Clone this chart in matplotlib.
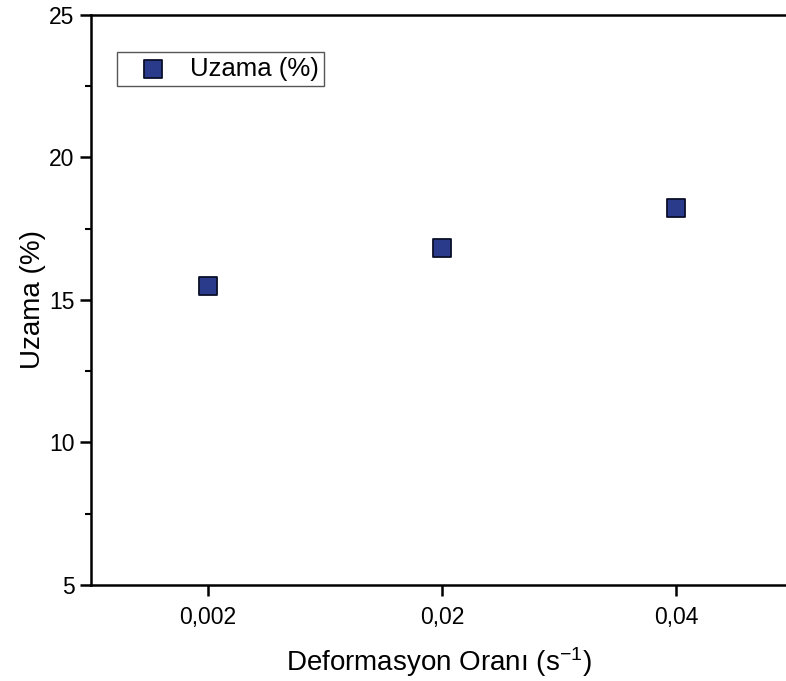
import matplotlib
matplotlib.use("Agg")
import matplotlib.pyplot as plt
from matplotlib.ticker import MultipleLocator

plt.rcParams['font.family'] = ['Liberation Sans', 'DejaVu Sans']
plt.rcParams['mathtext.fontset'] = 'custom'
plt.rcParams['mathtext.rm'] = 'Liberation Sans'
plt.rcParams['mathtext.it'] = 'Liberation Sans'

# data
rates = ['0,002', '0,02', '0,04']
uzama = [15.49, 16.82, 18.23]
pos = [1, 2, 3]

fig = plt.figure(figsize=(7.86, 6.81), dpi=100)
ax = fig.add_axes([0.1158, 0.141, 0.8842, 0.837])

ax.scatter(pos, uzama, marker='s', s=160, facecolor='#2a3b8c', edgecolor='#0b0f2a',
           linewidth=1.3, label='Uzama (%)', zorder=3)

ax.set_xlim(0.5, 3.47)
ax.set_ylim(5, 25)
ax.set_xticks(pos)
ax.set_xticklabels(rates)
ax.yaxis.set_major_locator(MultipleLocator(5))
ax.yaxis.set_minor_locator(MultipleLocator(2.5))

for s in ax.spines.values():
    s.set_linewidth(1.8)
ax.spines['right'].set_visible(False)
ax.tick_params(axis='both', which='major', direction='out', length=8, width=1.8,
               labelsize=16.5, pad=4)
ax.tick_params(axis='y', which='minor', direction='out', length=4, width=1.5)
ax.tick_params(axis='x', pad=7)

ax.set_xlabel('Deformasyon Oranı (s$^{-1}$)', fontsize=20, labelpad=12)
ax.set_ylabel('Uzama (%)', fontsize=20, labelpad=2)

leg = ax.legend(loc='upper left', bbox_to_anchor=(0.037, 0.935), fontsize=18.5,
                fancybox=False, framealpha=1, edgecolor='#555555', borderpad=0.2,
                handletextpad=0.25, borderaxespad=0, handlelength=2.4)
leg.get_frame().set_linewidth(1.0)

fig.savefig('out.png', dpi=100)
